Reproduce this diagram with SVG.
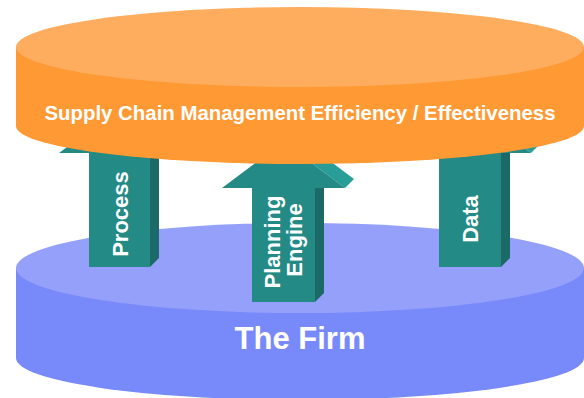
<svg xmlns="http://www.w3.org/2000/svg" width="584" height="398" viewBox="0 0 584 398">
  <style>
    .lbl { font-family: "Liberation Sans", Arial, sans-serif; font-weight: bold; fill: #ffffff; text-anchor: middle; }
    .front { fill: #238A86; }
    .side { fill: #1B6A67; }
    .bevel { fill: #299D97; }
  </style>
  <rect width="584" height="398" fill="#ffffff"/>

  <g id="firm">
    <path d="M16,268 L16,358 A284,42 0 0 0 584,358 L584,268 Z" fill="#7889F9"/>
    <ellipse cx="300" cy="268" rx="284" ry="45" fill="#94A0FA"/>
    <text class="lbl" x="300" y="349" font-size="31">The Firm</text>
  </g>

  <g id="connectors">
    <g id="process">
      <polygon class="side" points="150,153 159,144 159,258 150,267"/>
      <polygon class="bevel" points="180,153 189,144 128.5,99 119.5,108"/>
      <polygon class="front" points="59,153 119.5,108 180,153 150,153 150,267 89,267 89,153"/>
      <g transform="translate(128,214) rotate(-90)">
        <text class="lbl" x="0" y="0" font-size="22">Process</text>
      </g>
    </g>
    <g id="planning">
      <polygon class="side" points="315,188 324,179 324,293 315,302"/>
      <polygon class="bevel" points="345,188 354,179 292.5,133 283.5,142"/>
      <polygon class="front" points="222,188 283.5,142 345,188 315,188 315,302 252,302 252,188"/>
      <g transform="translate(279.5,242) rotate(-90)">
        <text class="lbl" x="0" y="0" font-size="22">Planning</text>
      </g>
      <g transform="translate(301.5,240) rotate(-90)">
        <text class="lbl" x="0" y="0" font-size="22">Engine</text>
      </g>
    </g>
    <g id="data">
      <polygon class="side" points="501,153 510,144 510,258 501,267"/>
      <polygon class="bevel" points="531,153 540,144 479,99 470,108"/>
      <polygon class="front" points="409,153 470,108 531,153 501,153 501,267 439,267 439,153"/>
      <g transform="translate(478,219) rotate(-90)">
        <text class="lbl" x="0" y="0" font-size="22">Data</text>
      </g>
    </g>
  </g>

  <g id="scm">
    <path d="M16,47 L16,126 A284,38 0 0 0 584,126 L584,47 Z" fill="#FE9934"/>
    <ellipse cx="300" cy="47" rx="284" ry="40" fill="#FEAC5D"/>
    <text class="lbl" x="300" y="120" font-size="20.4">Supply Chain Management Efficiency / Effectiveness</text>
  </g>
</svg>
